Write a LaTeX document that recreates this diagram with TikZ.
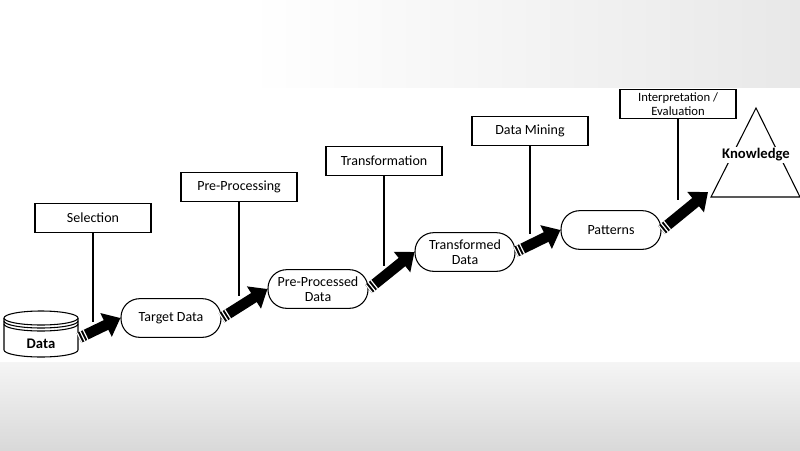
\documentclass[tikz,border=0pt]{standalone}
\usepackage{fontspec}
\setmainfont{Carlito}
\usetikzlibrary{shapes.geometric,arrows.meta,calc}
\begin{document}
\begin{tikzpicture}[x=0.75pt,y=-0.75pt,
  box/.style={draw,thick,fill=white,minimum width=87pt,minimum height=22pt,inner sep=1pt,font=\fontsize{10.5pt}{11pt}\selectfont,align=center},
  state/.style={draw,thick,fill=white,rounded corners=14pt,minimum width=75pt,minimum height=29pt,font=\fontsize{10.5pt}{11.5pt}\selectfont,align=center,inner sep=1pt},
  fat/.style={line width=8pt,-{Triangle[width=19pt,length=12pt]}}]
\useasboundingbox (0,0) rectangle (800,450);
\fill[white] (0,0) rectangle (800,450);
\shade[top color=gray!8,bottom color=gray!30] (0,362) rectangle (800,450);
\shade[left color=white,right color=gray!18] (250,0) rectangle (800,90);
\fill[white] (0,88) rectangle (800,362);
\newcommand{\fatarrow}[2]{%
  \draw[fat] (#1) -- (#2);
  \draw[white,line width=8.2pt,dash pattern=on 0.9pt off 1.6pt] (#1) -- ($(#1)!7pt!(#2)$);}
% data cylinder
\draw[thick,fill=white] (4,318) -- (4,350) arc[start angle=180,end angle=0,x radius=37,y radius=7] -- (78,318);
\draw[thick,fill=white] (41,318) ellipse[x radius=37,y radius=7];
\draw[thick] (4,321) arc[start angle=180,end angle=0,x radius=37,y radius=7];
\draw[thick] (4,324) arc[start angle=180,end angle=0,x radius=37,y radius=7];
\node[font=\bfseries\fontsize{11pt}{12pt}\selectfont] (data) at (41,344) {Data};
\coordinate (dR) at (79,338);
% boxes
\node[box] (sel) at (93,218) {Selection};
\node[box] (pre) at (239,187) {Pre-Processing};
\node[box] (tra) at (384,161) {Transformation};
\node[box] (dm) at (530,131) {Data Mining};
\node[box,font=\fontsize{9.5pt}{10.5pt}\selectfont] (int) at (678,104) {Interpretation /\\Evaluation};
\coordinate (s1) at (93,322); \coordinate (s2) at (239,296);
\coordinate (s3) at (384,266); \coordinate (s4) at (530,234); \coordinate (s5) at (678,200);
\draw[thick] (sel.south) -- (s1);
\draw[thick] (pre.south) -- (s2);
\draw[thick] (tra.south) -- (s3);
\draw[thick] (dm.south) -- (s4);
\draw[thick] (int.south) -- (s5);
% states
\node[state] (td) at (171,318) {Target Data};
\node[state] (ppd) at (318,289) {Pre-Processed\\Data};
\node[state] (tfd) at (465,252) {Transformed\\Data};
\node[state] (pat) at (611,230) {Patterns};
\draw[thick] (756,108) -- (800,197) -- (711,197) -- cycle;
\node[font=\bfseries\fontsize{11pt}{12pt}\selectfont,fill=white,inner sep=1pt] (kn) at (756,155) {Knowledge};
% arrows
\fatarrow{dR}{td.west}
\fatarrow{td.east}{ppd.west}
\fatarrow{ppd.east}{tfd.west}
\fatarrow{tfd.east}{pat.west}
\coordinate (kin) at (708,192);
\fatarrow{pat.east}{kin}
\end{tikzpicture}
\end{document}
